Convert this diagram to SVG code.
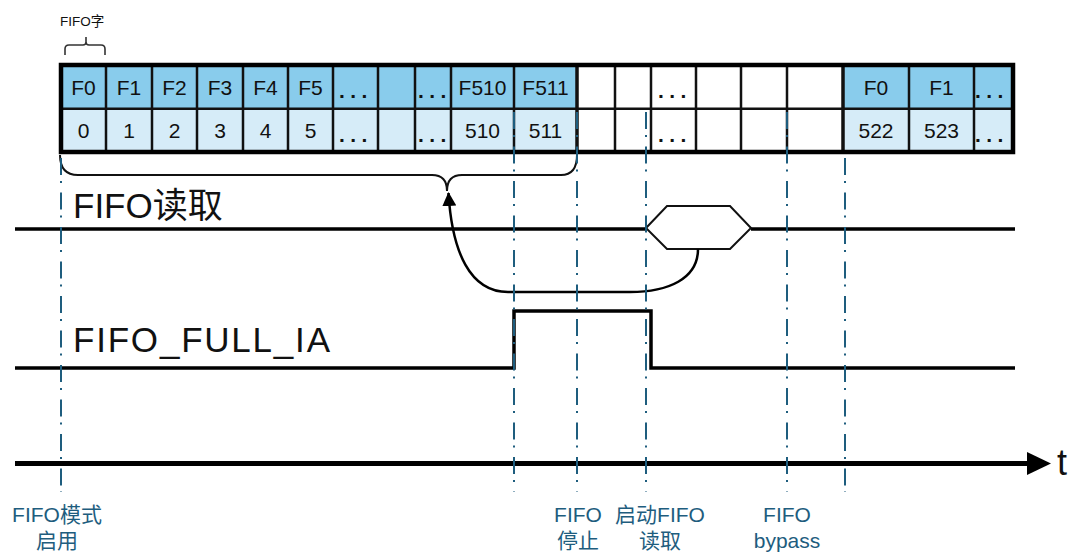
<svg xmlns="http://www.w3.org/2000/svg" width="1074" height="552" viewBox="0 0 1074 552">
  <defs>
    <style>
      .txt { font-family: "Liberation Sans", "Noto Sans CJK SC", sans-serif; fill: #111; }
      .cell { font-size: 21px; text-anchor: middle; }
      .dots { font-size: 21px; font-weight: bold; letter-spacing: 5.4px; }
      .sig { font-size: 35px; }
      .note { font-size: 21px; fill: #1E5D7E; text-anchor: middle; }
      .hi { fill: #89CCEC; }
      .lo { fill: #D6ECF8; }
      .blank { fill: #FFFFFF; }
      .grid { stroke: #111; stroke-width: 2.5; fill: none; }
      .grid-thick { stroke: #111; stroke-width: 3.5; fill: none; }
      .wave { stroke: #000; stroke-width: 3.5; fill: none; }
      .brace { stroke: #111; stroke-width: 2; fill: none; }
      .mark { stroke: #1E5D7E; stroke-width: 2; stroke-dasharray: 17 6 2 9.5; fill: none; }
    </style>
    <marker id="head" viewBox="0 0 14 14" refX="13" refY="7" markerWidth="14" markerHeight="14" markerUnits="userSpaceOnUse" orient="auto">
      <path d="M0,0 L14,7 L0,14 Z" fill="#000"/>
    </marker>
  </defs>

  <rect width="1074" height="552" fill="#FFFFFF"/>

  <!-- word-width annotation -->
  <g id="word-label">
    <text class="txt" x="60" y="26" font-size="13.5">FIFO字</text>
    <path d="M65 55 V49 Q65 45 69 45 H83 Q86 45 86 42 V37 M86 42 Q86 45 89 45 H101 Q105 45 105 49 V55" fill="none" stroke="#333" stroke-width="1.6"/>
  </g>

  <!-- FIFO word table -->
  <g id="fifo-table">
    <rect class="hi" x="61" y="65" width="516" height="44"/>
    <rect class="lo" x="61" y="109" width="516" height="43"/>
    <rect class="blank" x="577" y="65" width="266" height="87"/>
    <rect class="hi" x="843" y="65" width="170" height="44"/>
    <rect class="lo" x="843" y="109" width="170" height="43"/>

    <path class="grid" d="M106 65V152M152 65V152M197 65V152M243 65V152M288 65V152M333 65V152M378 65V152M415 65V152M451 65V152M514 65V152M615 65V152M651 65V152M696 65V152M741 65V152M787 65V152M909 65V152M974 65V152M61 108.7H1013"/>
    <path class="grid-thick" d="M577 65V152M843 65V152"/>
    <rect x="61" y="65" width="952" height="87" fill="none" stroke="#000" stroke-width="4.5"/>

    <g class="txt cell">
      <text x="83.5" y="95">F0</text>
      <text x="129" y="95">F1</text>
      <text x="174.5" y="95">F2</text>
      <text x="220" y="95">F3</text>
      <text x="265.5" y="95">F4</text>
      <text x="310.5" y="95">F5</text>
      <text x="482.5" y="95">F510</text>
      <text x="545.5" y="95">F511</text>
      <text x="876" y="95">F0</text>
      <text x="941.5" y="95">F1</text>

      <text x="83.5" y="138">0</text>
      <text x="129" y="138">1</text>
      <text x="174.5" y="138">2</text>
      <text x="220" y="138">3</text>
      <text x="265.5" y="138">4</text>
      <text x="310.5" y="138">5</text>
      <text x="482.5" y="138">510</text>
      <text x="545.5" y="138">511</text>
      <text x="876" y="138">522</text>
      <text x="941.5" y="138">523</text>
    </g>
    <g class="txt dots">
      <text x="339" y="98">...</text>
      <text x="418" y="98">...</text>
      <text x="658" y="98">...</text>
      <text x="975" y="98">...</text>
      <text x="339" y="142">...</text>
      <text x="418" y="142">...</text>
      <text x="658" y="142">...</text>
      <text x="975" y="142">...</text>
    </g>
  </g>

  <!-- brace under words 0..511 -->
  <g id="read-span">
    <path class="brace" d="M60 155 Q60 175 78 175 L432 175 Q447 175 447 191 Q447 175 462 175 L561 175 Q577 175 577 155"/>
  </g>

  <!-- FIFO read signal -->
  <g id="fifo-read">
    <text class="txt sig" x="73" y="218">FIFO读取</text>
    <path class="wave" d="M15 229H646M751 229H1015"/>
    <path d="M646 228 L667 206 L730 206 L751 228 L730 249 L667 249 Z" fill="#FFFFFF" stroke="#111" stroke-width="2"/>
  </g>

  <!-- FIFO full flag signal -->
  <g id="fifo-full">
    <text class="txt sig" x="73" y="352" textLength="257" lengthAdjust="spacing">FIFO_FULL_IA</text>
    <path class="wave" d="M15 368H514V311H651V368H1015"/>
  </g>

  <!-- time axis -->
  <g id="time-axis">
    <path d="M15 463.5H1030" stroke="#000" stroke-width="5" fill="none"/>
    <path d="M1027 452 L1051 463.5 L1027 475 Z" fill="#000"/>
    <text class="txt" x="1057" y="475" font-size="36">t</text>
  </g>

  <!-- connectors -->
  <g id="connectors">
    <path d="M698 249 C698 279 668 292 630 292 L508 292 C470 292 452 252 448.5 193" fill="none" stroke="#000" stroke-width="2.5" marker-end="url(#head)"/>
  </g>

  <!-- event markers -->
  <g id="markers">
    <path class="mark" d="M61 158V492"/>
    <path class="mark" d="M514 112V492"/>
    <path class="mark" d="M577 112V492"/>
    <path class="mark" d="M646 112V492"/>
    <path class="mark" d="M787 112V492"/>
    <path class="mark" d="M845 158V492"/>
  </g>

  <!-- event captions -->
  <g id="event-labels" class="txt note">
    <text x="57" y="522">FIFO模式</text>
    <text x="57" y="548">启用</text>
    <text x="578" y="522">FIFO</text>
    <text x="578" y="548">停止</text>
    <text x="660" y="522">启动FIFO</text>
    <text x="660" y="548">读取</text>
    <text x="787" y="522">FIFO</text>
    <text x="787" y="548">bypass</text>
  </g>
</svg>
